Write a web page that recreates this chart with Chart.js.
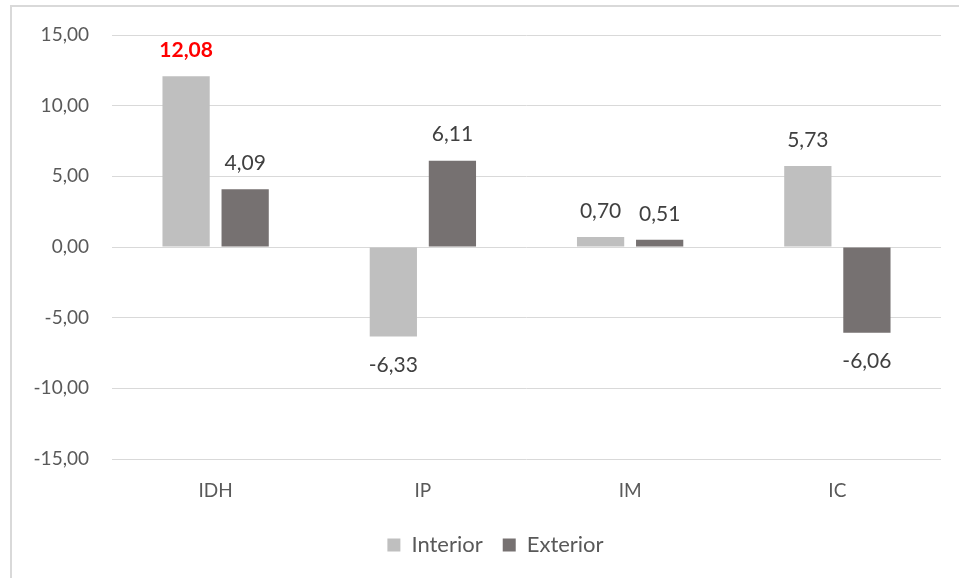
<!DOCTYPE html>
<html>
<head>
<meta charset="utf-8">
<script src="https://cdn.jsdelivr.net/npm/chart.js@4"></script>
<style>
	html, body { margin: 0; padding: 0; background: #fff; }
	#wrap { width: 959px; height: 578px; position: relative; }
</style>
</head>
<body>
<div id="wrap"><canvas id="chart" width="959" height="578"></canvas></div>
<script>
const categories = ["IDH", "IP", "IM", "IC"];
const interiorValues = [12.08, -6.33, 0.70, 5.73];
const exteriorValues = [4.09, 6.11, 0.51, -6.06];
const seriesNames = ["Interior", "Exterior"];
const yMin = -15;
const yMax = 15;
const yStep = 5;
const highlightValue = 12.08;

const fontFamily = "Lato, 'Open Sans', sans-serif";

function fmt(v) {
	return v.toFixed(2).replace(".", ",");
}

// draws the little value labels outside the end of each bar
const valueLabels = {
	id: "valueLabels",
	afterDatasetsDraw(chart) {
		const ctx = chart.ctx;
		ctx.save();
		ctx.textAlign = "center";
		ctx.textBaseline = "middle";
		chart.data.datasets.forEach((ds, i) => {
			const meta = chart.getDatasetMeta(i);
			meta.data.forEach((bar, j) => {
				const v = ds.data[j];
				const hot = v === highlightValue;
				ctx.font = (hot ? "bold " : "") + "21px " + fontFamily;
				ctx.fillStyle = hot ? "#ff0000" : "#404040";
				const y = v >= 0 ? bar.y - 26 : bar.y + 29;
				ctx.fillText(fmt(v), bar.x, y);
			});
		});
		ctx.restore();
	},
};

// light frame round the chart, cut off at right and bottom like the picture
const frame = {
	id: "frame",
	beforeDraw(chart) {
		const ctx = chart.ctx;
		ctx.save();
		ctx.strokeStyle = "#d9d9d9";
		ctx.lineWidth = 2;
		ctx.strokeRect(11, 6, chart.width + 20, chart.height + 20);
		ctx.restore();
	},
	// legend sits a bit right of the canvas centre in the original
	afterLayout(chart) {
		if (chart.legend) {
			chart.legend.left = 50;
		}
	},
};

const ctx = document.getElementById("chart");

new Chart(ctx, {
	type: "bar",
	data: {
		labels: categories,
		datasets: [
			{
				label: seriesNames[0],
				data: interiorValues,
				backgroundColor: "#bfbfbf",
			},
			{
				label: seriesNames[1],
				data: exteriorValues,
				backgroundColor: "#767171",
			},
		],
	},
	options: {
		responsive: false,
		animation: false,
		layout: {
			padding: { left: 0, right: 18, top: 35, bottom: 12 },
		},
		datasets: {
			bar: {
				categoryPercentage: 0.57,
				barPercentage: 0.8,
			},
		},
		scales: {
			x: {
				grid: { display: false, drawTicks: false },
				border: { display: false },
				ticks: {
					color: "#595959",
					font: { family: fontFamily, size: 19 },
					padding: 20,
				},
				afterFit: (scale) => {
					scale.height = 55;
				},
			},
			y: {
				min: yMin,
				max: yMax,
				grid: { color: "#d9d9d9", lineWidth: 1, drawTicks: false },
				border: { display: false },
				ticks: {
					stepSize: yStep,
					color: "#595959",
					font: { family: fontFamily, size: 19 },
					padding: 23,
					callback: (value) => fmt(value),
				},
				afterFit: (scale) => {
					scale.width = 112;
				},
			},
		},
		plugins: {
			legend: {
				position: "bottom",
				labels: {
					boxWidth: 13,
					boxHeight: 13,
					padding: 20,
					color: "#595959",
					font: { family: fontFamily, size: 22 },
				},
			},
			tooltip: { enabled: false },
		},
	},
	plugins: [frame, valueLabels],
});
</script>
</body>
</html>
